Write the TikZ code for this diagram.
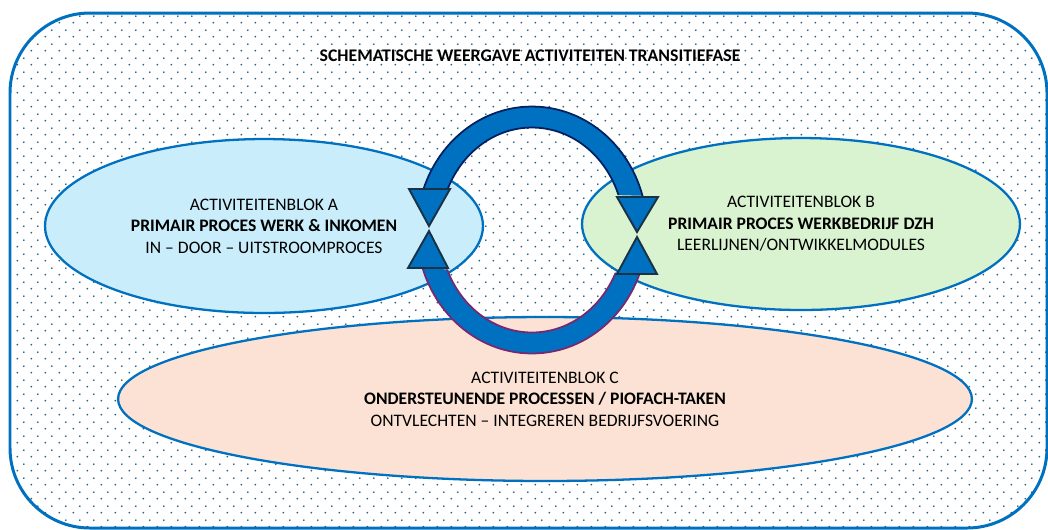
\documentclass[tikz,border=0pt]{standalone}
\usepackage{fontspec}
\setmainfont{Carlito}
\usetikzlibrary{shapes.geometric,patterns.meta}

\definecolor{lijnblauw}{RGB}{0,112,192}
\definecolor{stippelblauw}{RGB}{35,95,130}
\definecolor{blokA}{RGB}{202,237,251}
\definecolor{blokB}{RGB}{217,242,208}
\definecolor{blokC}{RGB}{251,226,213}
\definecolor{ringblauw}{RGB}{0,112,192}
\definecolor{ringboven}{RGB}{0,32,96}
\definecolor{ringonder}{RGB}{120,40,110}
\definecolor{pijlrand}{RGB}{25,50,70}

\tikzdeclarepattern{
  name=stippel,
  type=uncolored,
  bounding box={(0pt,0pt) and (7.97pt,7.97pt)},
  tile size={(7.97pt,7.97pt)},
  code={
    \fill (1.99pt,1.99pt) circle (0.6pt);
    \fill (5.98pt,5.98pt) circle (0.6pt);
  }
}

\begin{document}
\begin{tikzpicture}[x=0.02cm,y=-0.02cm]
    \tikzset{blok/.style = {shape=ellipse,draw=lijnblauw,line width=1.3pt,align=center,inner sep=0pt,font=\fontsize{10}{12.2}\selectfont}}
    \tikzset{titel/.style = {font=\bfseries\fontsize{10.1}{12.2}\selectfont}}
    \tikzset{pijlkop/.style = {fill=ringblauw,draw=pijlrand,line width=1.1pt,line join=miter}}
    \useasboundingbox (0,0) rectangle (1048,529);
    % achtergrond
    \draw[lijnblauw,line width=1.7pt,rounded corners=1.6cm,fill=white,
      postaction={pattern=stippel,pattern color=stippelblauw}] (10,13) rectangle (1047,528);
    \node[titel] (titel) at (530,56) {SCHEMATISCHE WEERGAVE ACTIVITEITEN TRANSITIEFASE};

    % blokken
    \node[blok,fill=blokA,minimum width=8.76cm,minimum height=3.48cm] (blokA) at (264,226)
      {ACTIVITEITENBLOK A\\\textbf{PRIMAIR PROCES WERK \& INKOMEN}\\IN -- DOOR -- UITSTROOMPROCES};
    \node[blok,fill=blokB,minimum width=8.76cm,minimum height=3.44cm] (blokB) at (801,224)
      {ACTIVITEITENBLOK B\\\textbf{PRIMAIR PROCES WERKBEDRIJF DZH}\\LEERLIJNEN/ONTWIKKELMODULES};
    \node[blok,fill=blokC,minimum width=17.08cm,minimum height=3.28cm] (blokC) at (545,399)
      {ACTIVITEITENBLOK C\\\textbf{ONDERSTEUNENDE PROCESSEN / PIOFACH-TAKEN}\\ONTVLECHTEN -- INTEGREREN BEDRIJFSVOERING};

    % ring
    \coordinate (ring) at (532,230);
    \begin{scope}
      \clip (380,268) -- (690,274) -- (690,380) -- (380,380) -- cycle;
      \fill[ringblauw,even odd rule] (ring) ellipse [x radius=2.3cm,y radius=2.47cm]
        (ring) ellipse [x radius=1.84cm,y radius=2.05cm];
      \draw[ringonder,line width=1pt] (ring) ellipse [x radius=2.3cm,y radius=2.47cm]
        (ring) ellipse [x radius=1.84cm,y radius=2.05cm];
    \end{scope}
    \begin{scope}
      \clip (380,80) -- (690,80) -- (690,197) -- (380,189) -- cycle;
      \fill[ringblauw,even odd rule] (ring) ellipse [x radius=2.3cm,y radius=2.47cm]
        (ring) ellipse [x radius=1.84cm,y radius=2.05cm];
      \draw[ringboven,line width=1pt] (ring) ellipse [x radius=2.3cm,y radius=2.47cm]
        (ring) ellipse [x radius=1.84cm,y radius=2.05cm];
    \end{scope}

    % pijlpunten
    \draw[pijlkop] (409,189) -- (450,189) -- (429,226) -- cycle;
    \draw[pijlkop] (429,231) -- (448,268) -- (408,268) -- cycle;
    \draw[pijlkop] (617,197) -- (658,197) -- (637,232) -- cycle;
    \draw[pijlkop] (637,237) -- (657,274) -- (617,274) -- cycle;
\end{tikzpicture}
\end{document}
